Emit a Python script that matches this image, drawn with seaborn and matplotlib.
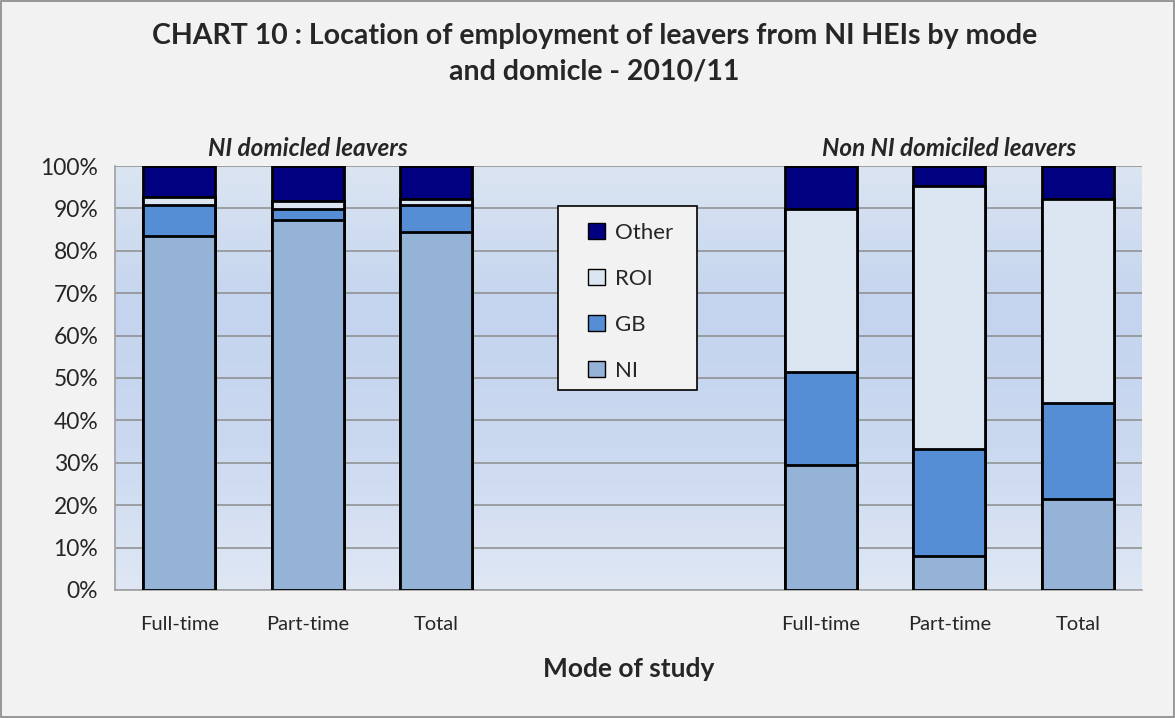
import numpy as np
import pandas as pd
import matplotlib
matplotlib.use("Agg")
import matplotlib.pyplot as plt
import seaborn as sns
from matplotlib.patches import Patch, Rectangle
from matplotlib.colors import LinearSegmentedColormap

# slots on the x axis (two empty slots separate the groups)
slots = ["NI_FT", "NI_PT", "NI_TOT", "gap1", "gap2", "NN_FT", "NN_PT", "NN_TOT"]
tick_labels = ["Full-time", "Part-time", "Total", "", "", "Full-time", "Part-time", "Total"]

# shares in % (NaN = empty slot)
ni_share = [83.5, 87.2, 84.4, np.nan, np.nan, 29.5, 8.1, 21.4]
gb_share = [7.2, 2.7, 6.3, np.nan, np.nan, 21.9, 25.1, 22.8]
roi_share = [2.0, 1.8, 1.5, np.nan, np.nan, 38.4, 62.1, 48.0]
other_share = [7.3, 8.3, 7.8, np.nan, np.nan, 10.2, 4.7, 7.8]

series = ["NI", "GB", "ROI", "Other"]
colours = {"NI": "#95b3d7", "GB": "#558ed5", "ROI": "#dce6f2", "Other": "#000080"}

df = pd.DataFrame({"slot": slots, "NI": ni_share, "GB": gb_share,
                   "ROI": roi_share, "Other": other_share})
# cumulative tops so bars can be drawn overlapping, biggest first
cum = df[series].cumsum(axis=1)

sns.set_style("white")
plt.rcParams["font.family"] = ["Lato", "DejaVu Sans"]

W, H = 1175, 718
fig = plt.figure(figsize=(11.75, 7.18), dpi=100, facecolor="#f2f2f2")
fig.patches.append(Rectangle((0.001, 0.001), 0.998, 0.997, transform=fig.transFigure,
                             fill=False, edgecolor="#888888", linewidth=1.2))
ax = fig.add_axes([115 / W, 0.1783, 1027 / W, 0.5905])

# gradient plot-area background
bg_cmap = LinearSegmentedColormap.from_list("bg", ["#dfe7f4", "#cbd9f0", "#c4d4ee", "#dbe5f2"])
ax.imshow(np.linspace(0, 1, 256).reshape(-1, 1), aspect="auto", cmap=bg_cmap,
          extent=[-0.5, 7.5, 0, 100], origin="lower", zorder=0)

for s in reversed(series):
    sns.barplot(data=pd.DataFrame({"slot": slots, "val": cum[s]}), x="slot", y="val",
                order=slots, color=colours[s], edgecolor="black", linewidth=2,
                width=0.56, saturation=1, ax=ax, zorder=3)

ax.set_xlim(-0.5, 7.5)
ax.set_ylim(0, 100)
ax.set_yticks(np.arange(0, 101, 10))
ax.set_yticklabels([f"{v}%" for v in range(0, 101, 10)], fontsize=16.5)
ax.set_xticks(range(8))
ax.set_xticklabels(tick_labels, fontsize=14.5)
ax.set_xticks(np.arange(-0.5, 8, 1), minor=True)
ax.tick_params(axis="x", which="major", length=0, pad=19)
ax.tick_params(axis="x", which="minor", length=6, color="#a0a0a0", width=1.2)
ax.tick_params(axis="y", length=6, color="#a0a0a0", width=1.2, pad=6)
ax.yaxis.grid(True, color="#8c8c8c", linewidth=1.1, zorder=1)
ax.set_axisbelow(True)
for side in ["top", "right"]:
    ax.spines[side].set_visible(False)
for side in ["left", "bottom"]:
    ax.spines[side].set_color("#a0a0a0")
    ax.spines[side].set_linewidth(1.2)

ax.set_ylabel("")
ax.set_xlabel("Mode of study", fontsize=19, fontweight="bold", labelpad=17)

ax.text(1, 101.5, "NI domicled leavers", ha="center", va="bottom",
        fontsize=17.5, fontweight="bold", style="italic")
ax.text(6, 101.5, "Non NI domiciled leavers", ha="center", va="bottom",
        fontsize=17.5, fontweight="bold", style="italic")

fig.text(0.506, 0.925, "CHART 10 : Location of employment of leavers from NI HEIs by mode\nand domicle - 2010/11",
         ha="center", va="center", fontsize=20.5, fontweight="bold", linespacing=1.45)

# legend box drawn by hand so its padding matches the original
box = Rectangle((558 / W, (H - 390) / H), 139 / W, 184 / H, transform=fig.transFigure,
                facecolor="#f2f2f2", edgecolor="black", linewidth=1.2, zorder=4)
ax.add_artist(box)
box.set_clip_on(False)

handles = [Patch(facecolor=colours[s], edgecolor="black", label=s) for s in reversed(series)]
leg = ax.legend(handles=handles, loc="upper left", bbox_to_anchor=(588 / W, (H - 223) / H),
                bbox_transform=fig.transFigure,
                fontsize=16, frameon=False, handlelength=0.75, handleheight=0.75,
                labelspacing=1.17, borderpad=0, handletextpad=0.45, borderaxespad=0)
leg.set_zorder(5)

fig.savefig("out.png", dpi=100, facecolor=fig.get_facecolor())
